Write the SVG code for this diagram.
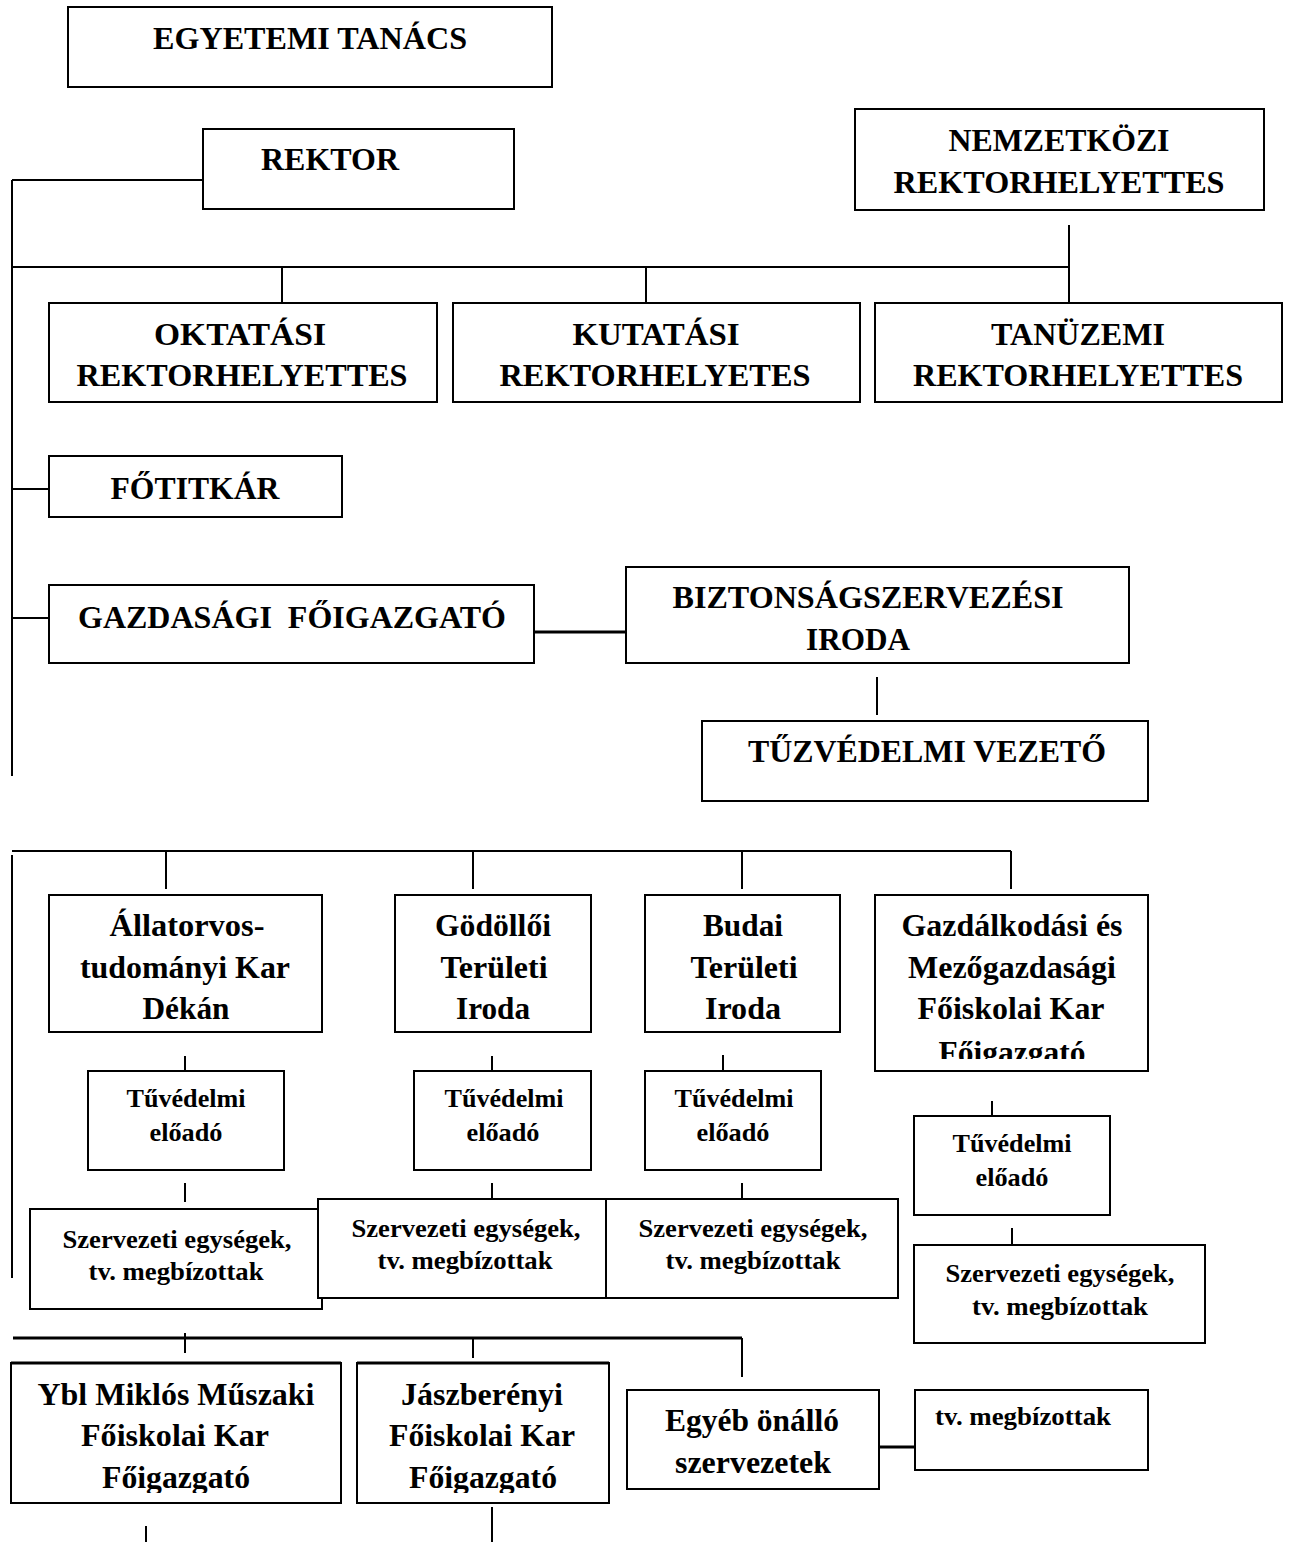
<svg xmlns="http://www.w3.org/2000/svg" width="1290" height="1542" viewBox="0 0 1290 1542">
<style>
.box{fill:#fff;stroke:#000;stroke-width:2}
.ln{fill:none;stroke:#000;stroke-width:2}
.thick{stroke-width:3}
text{font-family:"Liberation Serif","Times New Roman",serif;font-weight:bold;fill:#000;text-anchor:middle}
.L{font-size:32px}
.S{font-size:26px}
</style>
<defs>
<clipPath id="clipG"><rect x="875" y="895" width="273" height="164"/></clipPath>
<clipPath id="clipB"><rect x="0" y="1363" width="620" height="130"/></clipPath>
</defs>
<rect width="1290" height="1542" fill="#fff"/>
<g id="connectors">
<path class="ln" d="M12,180 H204 M12,180 V776 M12,267 H1069 M282,267 V303 M646,267 V305 M1069,225 V303 M12,489 H49 M12,618 H49"/>
<path class="ln thick" d="M534,632 H627"/>
<path class="ln" d="M877,677 V715"/>
<path class="ln" d="M12,851 H1011 M12,855 V1278 M166,851 V889 M473,851 V889 M742,851 V889 M1011,851 V889"/>
<path class="ln" d="M185,1056 V1074 M492,1056 V1074 M723,1055 V1074 M185,1183 V1202 M492,1183 V1202 M742,1183 V1202 M992,1101 V1119 M1012,1228 V1247"/>
<path class="ln thick" d="M13,1338 H742"/>
<path class="ln" d="M742,1338 V1377 M185,1333 V1353 M473,1338 V1358"/>
<path class="ln thick" d="M880,1447 H915"/>
<path class="ln" d="M146,1526 V1542 M492,1507 V1542"/>
</g>
<g id="egyetemi-tanacs"><rect class="box" x="68" y="7" width="484" height="80"/>
<text class="L" x="310" y="49" textLength="314" lengthAdjust="spacingAndGlyphs">EGYETEMI TANÁCS</text></g>
<g id="rektor"><rect class="box" x="203" y="129" width="311" height="80"/>
<text class="L" x="330" y="170" textLength="138" lengthAdjust="spacingAndGlyphs">REKTOR</text></g>
<g id="nemzetkozi"><rect class="box" x="855" y="109" width="409" height="101"/>
<text class="L" x="1059" y="151" textLength="221" lengthAdjust="spacingAndGlyphs">NEMZETKÖZI</text>
<text class="L" x="1059" y="193" textLength="331" lengthAdjust="spacingAndGlyphs">REKTORHELYETTES</text></g>
<g id="oktatasi"><rect class="box" x="49" y="303" width="388" height="99"/>
<text class="L" x="240" y="345" textLength="172" lengthAdjust="spacingAndGlyphs">OKTATÁSI</text>
<text class="L" x="242" y="386" textLength="331" lengthAdjust="spacingAndGlyphs">REKTORHELYETTES</text></g>
<g id="kutatasi"><rect class="box" x="453" y="303" width="407" height="99"/>
<text class="L" x="656" y="345" textLength="167" lengthAdjust="spacingAndGlyphs">KUTATÁSI</text>
<text class="L" x="655" y="386" textLength="311" lengthAdjust="spacingAndGlyphs">REKTORHELYETES</text></g>
<g id="tanuzemi"><rect class="box" x="875" y="303" width="407" height="99"/>
<text class="L" x="1078" y="345" textLength="174" lengthAdjust="spacingAndGlyphs">TANÜZEMI</text>
<text class="L" x="1078" y="386" textLength="330" lengthAdjust="spacingAndGlyphs">REKTORHELYETTES</text></g>
<g id="fotitkar"><rect class="box" x="49" y="456" width="293" height="61"/>
<text class="L" x="195" y="499" textLength="169" lengthAdjust="spacingAndGlyphs">FŐTITKÁR</text></g>
<g id="gazdasagi-foigazgato"><rect class="box" x="49" y="585" width="485" height="78"/>
<text class="L" x="292" y="628" textLength="428" lengthAdjust="spacingAndGlyphs" xml:space="preserve">GAZDASÁGI  FŐIGAZGATÓ</text></g>
<g id="biztonsag"><rect class="box" x="626" y="567" width="503" height="96"/>
<text class="L" x="868" y="608" textLength="391" lengthAdjust="spacingAndGlyphs">BIZTONSÁGSZERVEZÉSI</text>
<text class="L" x="858" y="650" textLength="104" lengthAdjust="spacingAndGlyphs">IRODA</text></g>
<g id="tuzvedelmi-vezeto"><rect class="box" x="702" y="721" width="446" height="80"/>
<text class="L" x="927" y="762" textLength="358" lengthAdjust="spacingAndGlyphs">TŰZVÉDELMI VEZETŐ</text></g>
<g id="allatorvos"><rect class="box" x="49" y="895" width="273" height="137"/>
<text class="L" x="187" y="936" textLength="155" lengthAdjust="spacingAndGlyphs">Állatorvos-</text>
<text class="L" x="185" y="978" textLength="210" lengthAdjust="spacingAndGlyphs">tudományi Kar</text>
<text class="L" x="186" y="1019" textLength="87" lengthAdjust="spacingAndGlyphs">Dékán</text></g>
<g id="godolloi"><rect class="box" x="395" y="895" width="196" height="137"/>
<text class="L" x="493" y="936" textLength="116" lengthAdjust="spacingAndGlyphs">Gödöllői</text>
<text class="L" x="494" y="978" textLength="107" lengthAdjust="spacingAndGlyphs">Területi</text>
<text class="L" x="493" y="1019" textLength="74" lengthAdjust="spacingAndGlyphs">Iroda</text></g>
<g id="budai"><rect class="box" x="645" y="895" width="195" height="137"/>
<text class="L" x="743" y="936" textLength="80" lengthAdjust="spacingAndGlyphs">Budai</text>
<text class="L" x="744" y="978" textLength="107" lengthAdjust="spacingAndGlyphs">Területi</text>
<text class="L" x="743" y="1019" textLength="76" lengthAdjust="spacingAndGlyphs">Iroda</text></g>
<g id="gazdalkodasi"><rect class="box" x="875" y="895" width="273" height="176"/>
<text class="L" x="1012" y="936" textLength="221" lengthAdjust="spacingAndGlyphs">Gazdálkodási és</text>
<text class="L" x="1012" y="978" textLength="208" lengthAdjust="spacingAndGlyphs">Mezőgazdasági</text>
<text class="L" x="1011" y="1019" textLength="187" lengthAdjust="spacingAndGlyphs">Főiskolai Kar</text>
<text class="L" x="1012" y="1063" textLength="147" lengthAdjust="spacingAndGlyphs" clip-path="url(#clipG)">Főigazgató</text></g>
<g id="tuvedelmi-1"><rect class="box" x="88" y="1071" width="196" height="99"/>
<text class="S" x="186" y="1107" textLength="119" lengthAdjust="spacingAndGlyphs">Tűvédelmi</text>
<text class="S" x="186" y="1141" textLength="73" lengthAdjust="spacingAndGlyphs">előadó</text></g>
<g id="tuvedelmi-2"><rect class="box" x="414" y="1071" width="177" height="99"/>
<text class="S" x="504" y="1107" textLength="119" lengthAdjust="spacingAndGlyphs">Tűvédelmi</text>
<text class="S" x="503" y="1141" textLength="73" lengthAdjust="spacingAndGlyphs">előadó</text></g>
<g id="tuvedelmi-3"><rect class="box" x="645" y="1071" width="176" height="99"/>
<text class="S" x="734" y="1107" textLength="119" lengthAdjust="spacingAndGlyphs">Tűvédelmi</text>
<text class="S" x="733" y="1141" textLength="73" lengthAdjust="spacingAndGlyphs">előadó</text></g>
<g id="tuvedelmi-4"><rect class="box" x="914" y="1116" width="196" height="99"/>
<text class="S" x="1012" y="1152" textLength="119" lengthAdjust="spacingAndGlyphs">Tűvédelmi</text>
<text class="S" x="1012" y="1186" textLength="73" lengthAdjust="spacingAndGlyphs">előadó</text></g>
<g id="szervezeti-1"><rect class="box" x="30" y="1209" width="292" height="100"/>
<text class="S" x="177" y="1248" textLength="229" lengthAdjust="spacingAndGlyphs">Szervezeti egységek,</text>
<text class="S" x="176" y="1280" textLength="175" lengthAdjust="spacingAndGlyphs">tv. megbízottak</text></g>
<g id="szervezeti-2"><rect class="box" x="318" y="1199" width="288" height="99"/>
<text class="S" x="466" y="1237" textLength="229" lengthAdjust="spacingAndGlyphs">Szervezeti egységek,</text>
<text class="S" x="465" y="1269" textLength="175" lengthAdjust="spacingAndGlyphs">tv. megbízottak</text></g>
<g id="szervezeti-3"><rect class="box" x="606" y="1199" width="292" height="99"/>
<text class="S" x="753" y="1237" textLength="229" lengthAdjust="spacingAndGlyphs">Szervezeti egységek,</text>
<text class="S" x="753" y="1269" textLength="175" lengthAdjust="spacingAndGlyphs">tv. megbízottak</text></g>
<g id="szervezeti-4"><rect class="box" x="914" y="1245" width="291" height="98"/>
<text class="S" x="1060" y="1282" textLength="229" lengthAdjust="spacingAndGlyphs">Szervezeti egységek,</text>
<text class="S" x="1060" y="1315" textLength="176" lengthAdjust="spacingAndGlyphs">tv. megbízottak</text></g>
<g id="ybl"><rect class="box" x="11" y="1363" width="330" height="140"/>
<path class="ln thick" d="M11,1363 H341"/>
<text class="L" x="176" y="1405" textLength="277" lengthAdjust="spacingAndGlyphs">Ybl Miklós Műszaki</text>
<text class="L" x="175" y="1446" textLength="188" lengthAdjust="spacingAndGlyphs">Főiskolai Kar</text>
<text class="L" x="176" y="1488" textLength="148" lengthAdjust="spacingAndGlyphs" clip-path="url(#clipB)">Főigazgató</text></g>
<g id="jaszberenyi"><rect class="box" x="357" y="1363" width="252" height="140"/>
<path class="ln thick" d="M357,1363 H609"/>
<text class="L" x="482" y="1405" textLength="162" lengthAdjust="spacingAndGlyphs">Jászberényi</text>
<text class="L" x="482" y="1446" textLength="186" lengthAdjust="spacingAndGlyphs">Főiskolai Kar</text>
<text class="L" x="483" y="1488" textLength="148" lengthAdjust="spacingAndGlyphs" clip-path="url(#clipB)">Főigazgató</text></g>
<g id="egyeb"><rect class="box" x="627" y="1390" width="252" height="99"/>
<text class="L" x="752" y="1431" textLength="174" lengthAdjust="spacingAndGlyphs">Egyéb önálló</text>
<text class="L" x="753" y="1473" textLength="156" lengthAdjust="spacingAndGlyphs">szervezetek</text></g>
<g id="tv-megbizottak"><rect class="box" x="915" y="1390" width="233" height="80"/>
<text class="S" x="1023" y="1425" textLength="176" lengthAdjust="spacingAndGlyphs">tv. megbízottak</text></g>
</svg>
